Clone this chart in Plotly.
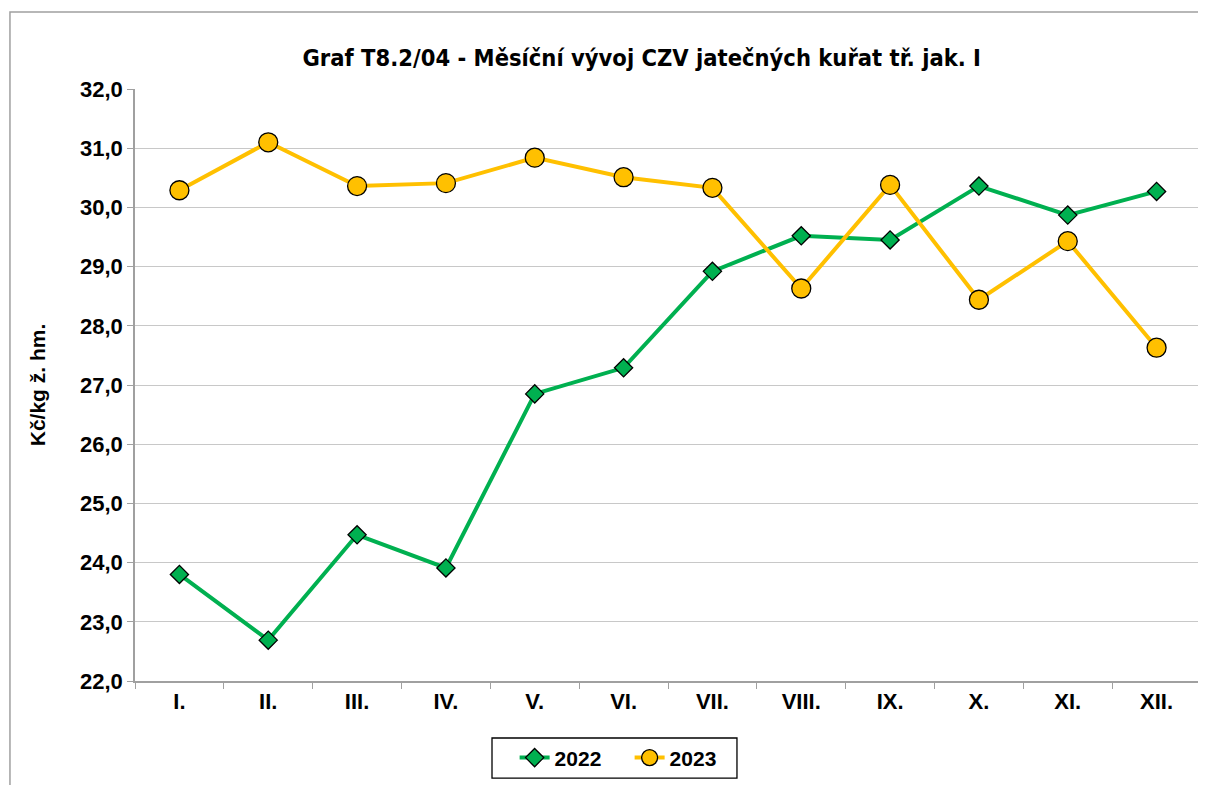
import plotly.graph_objects as go

months = ["I.", "II.", "III.", "IV.", "V.", "VI.", "VII.", "VIII.", "IX.", "X.", "XI.", "XII."]
y2022 = [23.80, 22.69, 24.47, 23.91, 26.85, 27.29, 28.92, 29.52, 29.45, 30.36, 29.87, 30.27]
y2023 = [30.29, 31.10, 30.36, 30.41, 30.84, 30.51, 30.33, 28.63, 30.38, 28.44, 29.43, 27.63]
y_ticks = [22, 23, 24, 25, 26, 27, 28, 29, 30, 31, 32]

ARIAL = "Liberation Sans, Arial, sans-serif"

fig = go.Figure()
fig.add_trace(go.Scatter(
    x=months, y=y2022, name="2022", mode="lines+markers",
    line=dict(color="#00B050", width=4),
    marker=dict(symbol="diamond", size=14, color="#00B050", line=dict(color="black", width=1.3)),
))
fig.add_trace(go.Scatter(
    x=months, y=y2023, name="2023", mode="lines+markers",
    line=dict(color="#FFC000", width=4),
    marker=dict(symbol="circle", size=19, color="#FFC000", line=dict(color="black", width=1.3)),
))

fig.update_layout(
    width=1198, height=777,
    margin=dict(l=127, r=5, t=81, b=104),
    paper_bgcolor="white", plot_bgcolor="white",
    separators=", ",
    title=dict(
        text="Graf T8.2/04 - Měsíční vývoj CZV jatečných kuřat tř. jak. I",
        x=0.529, xanchor="center", y=0.9356, yanchor="middle",
        font=dict(family="DejaVu Sans Condensed, Liberation Sans Narrow, Liberation Sans, sans-serif",
                  size=23.5, color="black", weight="bold"),
    ),
    showlegend=True,
    legend=dict(
        orientation="h", x=0.464, xanchor="center", y=-0.130, yanchor="middle",
        borderwidth=0, bgcolor="rgba(0,0,0,0)",
        font=dict(family=ARIAL, size=21, color="black", weight="bold"),
        traceorder="normal", entrywidth=70,
    ),
    xaxis=dict(
        type="category", tickson="boundaries", ticks="outside", ticklen=6, tickcolor="#a0a0a0",
        showline=True, linecolor="#a0a0a0", linewidth=1.5, showgrid=False,
        tickfont=dict(family=ARIAL, size=22, color="black", weight="bold"),
        range=[-0.5, 11.5],
    ),
    yaxis=dict(
        range=[22, 32], tickvals=y_ticks, tickformat=".1f",
        ticks="outside", ticklen=6, tickcolor="#a0a0a0",
        showline=True, linecolor="#a0a0a0", linewidth=1.5,
        showgrid=True, gridcolor="#c8c8c8", gridwidth=1.2,
        tickfont=dict(family=ARIAL, size=22, color="black", weight="bold"),
        title=dict(text="Kč/kg ž. hm.", standoff=29,
                   font=dict(family=ARIAL, size=21, color="black", weight="bold")),
        zeroline=False,
    ),
    shapes=[
        dict(type="rect", xref="paper", yref="paper",
             x0=-0.1173, x1=1.05, y0=-0.25, y1=1.130,
             line=dict(color="#a0a0a0", width=1.5), fillcolor="rgba(0,0,0,0)", layer="below"),
        dict(type="rect", xref="paper", yref="paper",
             x0=0.3349, x1=0.5647, y0=-0.1639, y1=-0.0963,
             line=dict(color="black", width=1.3), fillcolor="white", layer="below"),
    ],
)

fig.write_html("out.html")
